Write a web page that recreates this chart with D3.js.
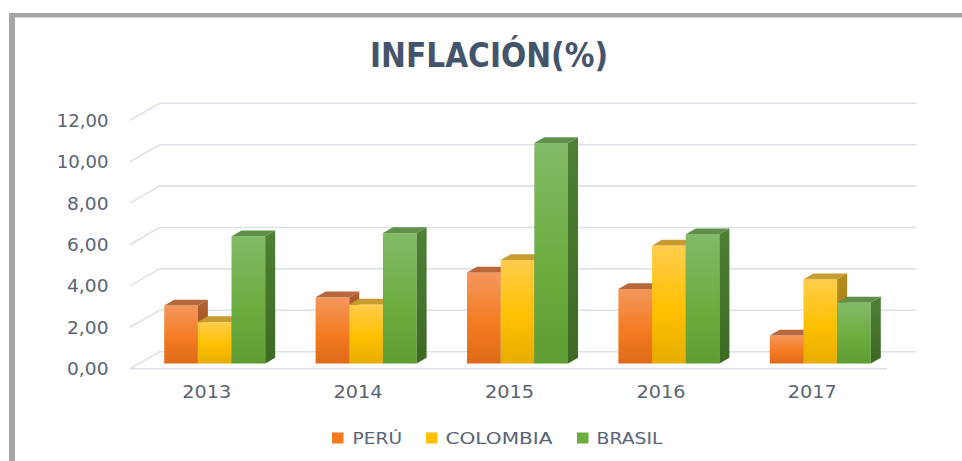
<!DOCTYPE html>
<html><head><meta charset="utf-8">
<script src="https://cdn.jsdelivr.net/npm/d3@7"></script>
<style>html,body{margin:0;padding:0;background:#fff;}svg{display:block;}</style>
</head><body>
<script>
// ---- data ----
const years = ["2013", "2014", "2015", "2016", "2017"];
const peru = [2.8, 3.2, 4.4, 3.6, 1.35];
const colombia = [2.0, 2.85, 5.0, 5.7, 4.07];
const brasil = [6.15, 6.3, 10.65, 6.25, 2.95];
const seriesNames = ["PERÚ", "COLOMBIA", "BRASIL"];
const yTicks = [0, 2, 4, 6, 8, 10, 12];
const title = "INFLACIÓN(%)";

const W = 962, H = 461;
const svg = d3.select("body").append("svg").attr("width", W).attr("height", H);
const defs = svg.append("defs");

// frame
svg.append("rect").attr("x", 0).attr("y", 0).attr("width", W).attr("height", H).attr("fill", "#fff");
svg.append("rect").attr("x", 9).attr("y", 13).attr("width", W - 9).attr("height", 4.5).attr("fill", "#a6a6a6");
svg.append("rect").attr("x", 9).attr("y", 13).attr("width", 6).attr("height", H - 13).attr("fill", "#a6a6a6");

// title
svg.append("text").text(title)
  .attr("x", 489).attr("y", 66.5).attr("text-anchor", "middle")
  .attr("font-family", "DejaVu Sans").attr("font-weight", "bold").attr("font-size", 33)
  .attr("fill", "#44546a").attr("textLength", 238).attr("lengthAdjust", "spacingAndGlyphs");

// 3D projection
const X0 = 130, X1 = 887, YBASE = 368.7, DX = 29.5, DY = -17;
const x = d3.scaleBand().domain(years).range([X0, X1]).paddingInner(0).paddingOuter(0);
const y = d3.scaleLinear().domain([0, 12]).range([0, -248.4]);
const proj = (xf, v, depth) => [xf + depth * DX, YBASE + y(v) + depth * DY];

// gridlines
const gridG = svg.append("g");
yTicks.forEach(t => {
  const pts = [proj(X0, t, 0), proj(X0, t, 1), proj(X1, t, 1)];
  gridG.append("polyline").attr("points", pts.map(p => p.join(",")).join(" "))
    .attr("fill", "none").attr("stroke", "#dde2e9").attr("stroke-width", 1.6);
});
// floor front edge
const f0 = proj(X0, 0, 0), f1 = proj(X1, 0, 0);
gridG.append("line").attr("x1", f0[0]).attr("y1", f0[1]).attr("x2", f1[0]).attr("y2", f1[1])
  .attr("stroke", "#dde2e9").attr("stroke-width", 1.6);

// y labels
const lblColor = "#586374";
yTicks.forEach(t => {
  const p = proj(X0, t, 0);
  svg.append("text").text(d3.format(".2f")(t).replace(".", ","))
    .attr("x", 108.5).attr("y", p[1] + 6.5).attr("text-anchor", "end")
    .attr("font-family", "DejaVu Sans").attr("font-size", 18).attr("fill", lblColor)
    .attr("textLength", t >= 10 ? 51.7 : 41.5).attr("lengthAdjust", "spacingAndGlyphs");
});

// x labels
years.forEach(yr => {
  svg.append("text").text(yr)
    .attr("x", x(yr) + x.bandwidth() / 2 + 1).attr("y", 398).attr("text-anchor", "middle")
    .attr("font-family", "DejaVu Sans").attr("font-size", 18).attr("fill", lblColor)
    .attr("textLength", 49).attr("lengthAdjust", "spacingAndGlyphs");
});

// gradients
const palettes = [
  { front: ["#f4975c", "#f47c22", "#e0691a"], side: ["#b05f2e", "#9a4d1c"], top: "#b8683d", legend: "#f47b20" },
  { front: ["#ffcd4c", "#ffc000", "#e6ad00"], side: ["#b38c1f", "#9c7a12"], top: "#c79c30", legend: "#ffc000" },
  { front: ["#82ba68", "#6dad40", "#5f9d32"], side: ["#4f8034", "#3c6923"], top: "#5f9048", legend: "#6dad40" }
];
palettes.forEach((p, i) => {
  const g1 = defs.append("linearGradient").attr("id", "front" + i).attr("x1", 0).attr("y1", 0).attr("x2", 0).attr("y2", 1);
  g1.append("stop").attr("offset", "0%").attr("stop-color", p.front[0]);
  g1.append("stop").attr("offset", "55%").attr("stop-color", p.front[1]);
  g1.append("stop").attr("offset", "100%").attr("stop-color", p.front[2]);
  const g2 = defs.append("linearGradient").attr("id", "side" + i).attr("x1", 0).attr("y1", 0).attr("x2", 0).attr("y2", 1);
  g2.append("stop").attr("offset", "0%").attr("stop-color", p.side[0]);
  g2.append("stop").attr("offset", "100%").attr("stop-color", p.side[1]);
});

// bars
const seriesVals = [peru, colombia, brasil];
const groupW = 101, barW = groupW / 3;
const D0 = 0.305, D1 = 0.305 + 10 / DX;
const barsG = svg.append("g");
const poly = pts => pts.map(p => p.join(",")).join(" ");
years.forEach((yr, ci) => {
  const cx = x(yr) + x.bandwidth() / 2;
  seriesVals.forEach((vals, si) => {
    const v = vals[ci];
    const xl = cx - groupW / 2 + si * barW, xr = xl + barW;
    const a = proj(xl, 0, D0), b = proj(xr, 0, D0), c = proj(xr, v, D0), d = proj(xl, v, D0);
    const cb = proj(xr, v, D1), db = proj(xl, v, D1), bb = proj(xr, 0, D1);
    const g = barsG.append("g");
    // front
    g.append("rect").attr("x", d[0]).attr("y", d[1]).attr("width", c[0] - d[0]).attr("height", a[1] - d[1])
      .attr("fill", `url(#front${si})`);
    // side
    g.append("polygon").attr("points", poly([b, c, cb, bb])).attr("fill", `url(#side${si})`);
    // top
    g.append("polygon").attr("points", poly([d, c, cb, db])).attr("fill", palettes[si].top);
  });
});

// legend
const legendItems = [
  { sx: 332, tx: 352.5, tw: 49.5 },
  { sx: 426, tx: 445.5, tw: 107 },
  { sx: 577, tx: 596.5, tw: 66 }
];
legendItems.forEach((L, i) => {
  svg.append("rect").attr("x", L.sx).attr("y", 432.5).attr("width", 11.5).attr("height", 11)
    .attr("fill", palettes[i].legend);
  svg.append("text").text(seriesNames[i]).attr("x", L.tx).attr("y", 443.5)
    .attr("font-family", "DejaVu Sans").attr("font-size", 15).attr("fill", lblColor)
    .attr("textLength", L.tw).attr("lengthAdjust", "spacingAndGlyphs");
});
</script>
</body></html>
